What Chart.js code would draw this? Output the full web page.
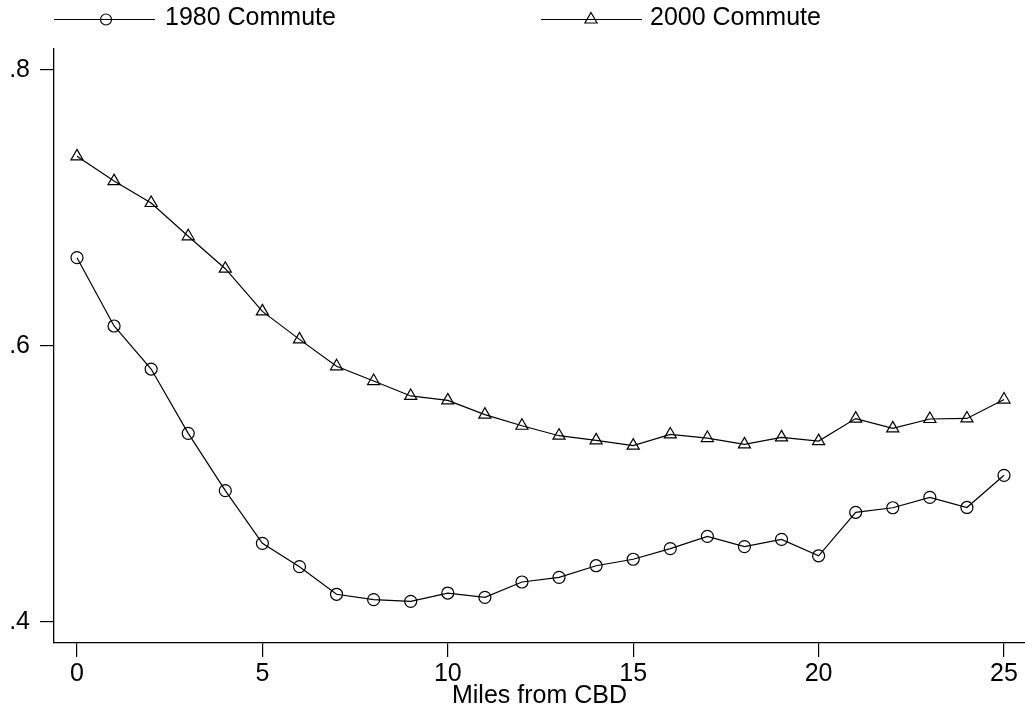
<!DOCTYPE html>
<html>
<head>
<meta charset="utf-8">
<script src="https://cdn.jsdelivr.net/npm/chart.js@4"></script>
<style>
  html, body { margin: 0; padding: 0; background: #fff; }
  canvas { display: block; }
</style>
</head>
<body>
<canvas id="c" width="1025" height="711"></canvas>
<script>
const miles = [0,1,2,3,4,5,6,7,8,9,10,11,12,13,14,15,16,17,18,19,20,21,22,23,24,25];
const commute1980 = [0.664, 0.6145, 0.5833, 0.5367, 0.4952, 0.457, 0.4401, 0.4201, 0.4162, 0.415, 0.421, 0.4179, 0.429, 0.4324, 0.4408, 0.4455, 0.4532, 0.4621, 0.4546, 0.4599, 0.448, 0.4795, 0.4828, 0.4903, 0.483, 0.5063];
const commute2000 = [0.7374, 0.7195, 0.7036, 0.6795, 0.656, 0.6251, 0.6048, 0.5853, 0.5746, 0.5638, 0.5606, 0.5503, 0.5422, 0.535, 0.5316, 0.5278, 0.5359, 0.5333, 0.5287, 0.5338, 0.5311, 0.5474, 0.5403, 0.5471, 0.5475, 0.5612];
const seriesNames = ['1980 Commute', '2000 Commute'];
const xTickValues = [0, 5, 10, 15, 20, 25];
const yTickValues = [0.4, 0.6, 0.8];
const xTitle = 'Miles from CBD';

const FONT = '"Liberation Sans", Arial, Helvetica, sans-serif';

const legendPlugin = {
  id: 'stataLegend',
  afterDraw(chart) {
    const ctx = chart.ctx;
    const items = [
      { x0: 54, x1: 155, mx: 106, style: 'circle', tx: 165, label: seriesNames[0] },
      { x0: 541, x1: 642, mx: 591, style: 'triangle', tx: 650, label: seriesNames[1] }
    ];
    const y = 19.5;
    ctx.save();
    items.forEach(it => {
      ctx.strokeStyle = '#000';
      ctx.lineWidth = 1.2;
      ctx.beginPath();
      ctx.moveTo(it.x0, y);
      ctx.lineTo(it.x1, y);
      ctx.stroke();
      ctx.fillStyle = 'rgba(0,0,0,0)';
      ctx.strokeStyle = '#000';
      Chart.helpers.drawPoint(ctx, { pointStyle: it.style, radius: it.style === 'circle' ? 5.5 : 7, borderWidth: 1.2 }, it.mx, y);
      ctx.fillStyle = '#000';
      ctx.font = '25px ' + FONT;
      ctx.textBaseline = 'middle';
      ctx.textAlign = 'left';
      ctx.fillText(it.label, it.tx, 18);
    });
    ctx.restore();
  }
};

const toPts = (vals) => miles.map((m, i) => ({ x: m, y: vals[i] }));

new Chart(document.getElementById('c'), {
  type: 'line',
  data: {
    datasets: [
      {
        label: seriesNames[0],
        data: toPts(commute1980),
        borderColor: '#000',
        borderWidth: 1.2,
        pointStyle: 'circle',
        pointRadius: 6,
        pointBorderWidth: 1.2,
        pointBorderColor: '#000',
        pointBackgroundColor: 'rgba(0,0,0,0)',
        tension: 0,
        clip: false
      },
      {
        label: seriesNames[1],
        data: toPts(commute2000),
        borderColor: '#000',
        borderWidth: 1.2,
        pointStyle: 'triangle',
        pointRadius: 7,
        pointBorderWidth: 1.2,
        pointBorderColor: '#000',
        pointBackgroundColor: 'rgba(0,0,0,0)',
        tension: 0,
        clip: false
      }
    ]
  },
  options: {
    responsive: false,
    animation: false,
    devicePixelRatio: 1,
    layout: { autoPadding: false, padding: { top: 49, right: 0, left: 0, bottom: 0 } },
    plugins: {
      legend: { display: false },
      tooltip: { enabled: false }
    },
    scales: {
      x: {
        type: 'linear',
        min: -0.62,
        max: 25.566,
        afterBuildTicks(scale) { scale.ticks = xTickValues.map(v => ({ value: v })); },
        afterFit(scale) { scale.height = 68; scale.paddingLeft = 0; scale.paddingRight = 0; },
        ticks: {
          color: '#000',
          font: { family: FONT, size: 25 },
          padding: 2,
          maxRotation: 0,
          callback: (v) => String(v)
        },
        grid: { drawOnChartArea: false, drawTicks: true, tickLength: 14, color: '#000', lineWidth: 1.2 },
        border: { display: true, color: '#000', width: 1.3 },
        title: {
          display: true,
          text: xTitle,
          color: '#000',
          font: { family: FONT, size: 25 },
          padding: { top: 0, bottom: 0 }
        }
      },
      y: {
        type: 'linear',
        min: 0.3848,
        max: 0.8152,
        afterBuildTicks(scale) { scale.ticks = yTickValues.map(v => ({ value: v })); },
        afterFit(scale) { scale.width = 54; scale.paddingTop = 0; scale.paddingBottom = 0; },
        ticks: {
          color: '#000',
          font: { family: FONT, size: 25 },
          padding: 10,
          callback: (v) => String(Math.round(v * 10) / 10).replace(/^0/, '')
        },
        grid: { drawOnChartArea: false, drawTicks: true, tickLength: 14, color: '#000', lineWidth: 1.2 },
        border: { display: true, color: '#000', width: 1.3 }
      }
    }
  },
  plugins: [legendPlugin]
});
</script>
</body>
</html>
